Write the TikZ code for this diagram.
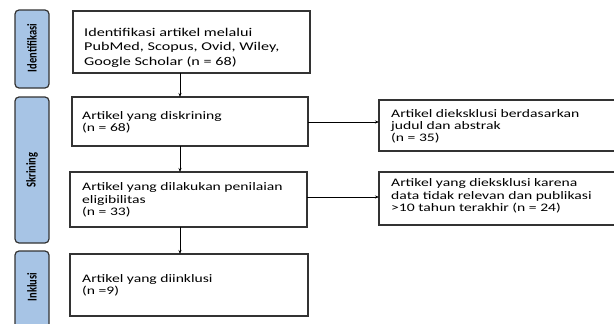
\documentclass[tikz,border=0pt]{standalone}
\usepackage{fontspec}
\setmainfont{Carlito}[FakeStretch=1.36]
\newfontfamily\labfont{Carlito}
\usetikzlibrary{arrows.meta}
\definecolor{labblue}{HTML}{A7C4E5}
\definecolor{bordergray}{HTML}{333333}
\newcommand{\stagetext}[1]{\rotatebox{90}{\scalebox{1}[1.28]{\labfont\bfseries\fontsize{10.5}{12}\selectfont #1}}}
\tikzset{
  x=1pt,y=-1pt,
  stagebox/.style={draw=bordergray,line width=1.2pt,fill=labblue,rounded corners=4pt},
  stagelabel/.style={inner sep=0pt,text=black},
  flowbox/.style={draw=bordergray,line width=1.1pt},
  flowtext/.style={anchor=west,align=left,inner sep=0pt,font=\fontsize{11.5}{12.3}\selectfont,text=black},
  flowarrow/.style={draw=black,line width=0.6pt,-{Stealth[length=4pt,width=3pt]}}
}
\begin{document}
\begin{tikzpicture}
\useasboundingbox (0,0) rectangle (614,324);
% stage sidebars
\draw[stagebox] (15,10) rectangle (49,88);
\node[stagelabel] (lid) at (32,48) {\stagetext{Identifikasi}};
\draw[stagebox] (15,97) rectangle (49,243);
\node[stagelabel] (lsk) at (32,170) {\stagetext{Skrining}};
\draw[stagebox] (15,251) rectangle (49,345);
\node[stagelabel] (lin) at (32,287) {\stagetext{Inklusi}};
% main boxes
\draw[flowbox] (73,11) rectangle (310,73);
\node[flowtext,font=\fontsize{11.9}{14.5}\selectfont] (t1) at (84,47.5) {Identifikasi artikel melalui\\PubMed, Scopus, Ovid, Wiley,\\Google Scholar (n = 68)};
\coordinate (b1top) at (180,11); \coordinate (b1bot) at (180,73);
\draw[flowbox] (72,97) rectangle (308,146);
\node[flowtext] (t2) at (82,122.5) {Artikel yang diskrining\\(n = 68)};
\coordinate (b2top) at (180,97); \coordinate (b2bot) at (180,146); \coordinate (b2r) at (308,122);
\draw[flowbox] (70,172) rectangle (307,227);
\node[flowtext] (t3) at (82,200) {Artikel yang dilakukan penilaian\\eligibilitas\\(n = 33)};
\coordinate (b3top) at (180,172); \coordinate (b3bot) at (180,227); \coordinate (b3r) at (307,197);
\draw[flowbox] (70,254) rectangle (308,316);
\node[flowtext] (t4) at (82,285) {Artikel yang diinklusi\\(n =9)};
\coordinate (b4top) at (180,254);
% exclusion boxes
\draw[flowbox] (379,100) rectangle (620,151);
\node[flowtext] (ta) at (391,126.5) {Artikel dieksklusi berdasarkan\\judul dan abstrak\\(n = 35)};
\coordinate (bal) at (379,122);
\draw[flowbox] (379,172) rectangle (620,225);
\node[flowtext] (tb) at (391,196) {Artikel yang dieksklusi karena\\data tidak relevan dan publikasi\\>10 tahun terakhir (n = 24)};
\coordinate (bbl) at (379,197);
% arrows
\draw[flowarrow] (b1bot) -- (b2top);
\draw[flowarrow] (b2bot) -- (b3top);
\draw[flowarrow] (b3bot) -- (b4top);
\draw[flowarrow] (b2r) -- (bal);
\draw[flowarrow] (b3r) -- (bbl);
\end{tikzpicture}
\end{document}
